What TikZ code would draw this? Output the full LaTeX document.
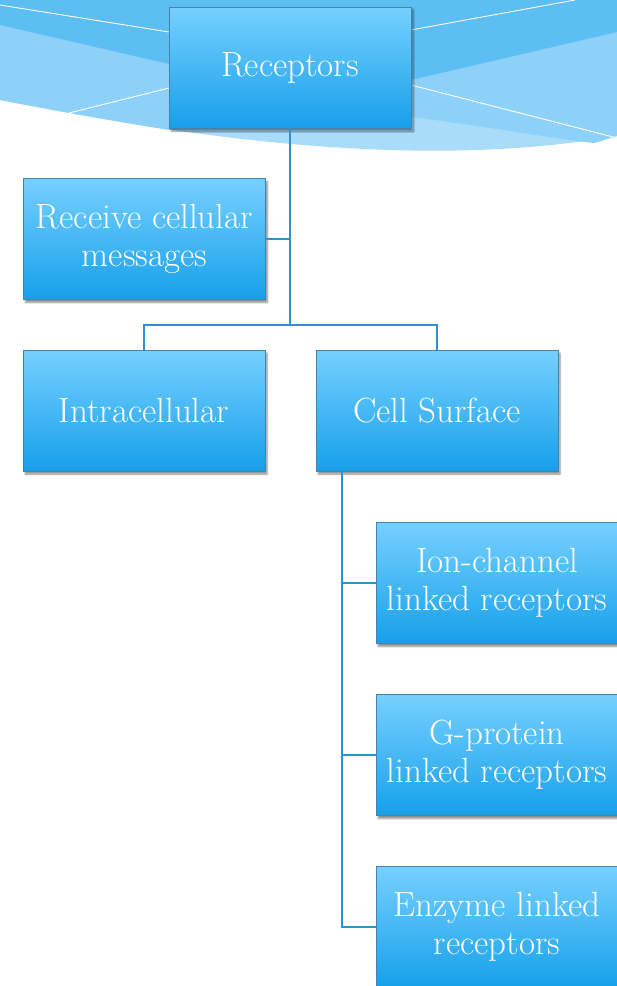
\documentclass[tikz,border=0pt]{standalone}
\usepackage{fontspec}
\usetikzlibrary{shadows.blur}
\definecolor{bgdark}{RGB}{93,190,243}
\definecolor{bgmid}{RGB}{142,209,248}
\definecolor{bglight}{RGB}{168,220,249}
\definecolor{boxtop}{RGB}{118,208,255}
\definecolor{boxbot}{RGB}{22,160,234}
\definecolor{boxedge}{RGB}{70,130,170}
\definecolor{conncol}{RGB}{46,146,208}
\begin{document}
\begin{tikzpicture}[x=1pt,y=-1pt,
  box/.style={rectangle, minimum width=242pt, minimum height=121pt, inner sep=0pt,
    align=center, text=white, font=\fontsize{35}{38}\selectfont,
    top color=boxtop, bottom color=boxbot, draw=boxedge, line width=0.7pt,
    blur shadow={shadow xshift=2pt, shadow yshift=-3pt, shadow blur steps=6, shadow opacity=45}},
  conn/.style={draw=conncol, line width=2pt},
  wline/.style={draw=white, line width=0.9pt}]
\useasboundingbox (0,0) rectangle (617,986);
\clip (0,0) rectangle (617,986);
% background waves
\fill[bglight] (0,0) -- (0,100) .. controls (250,150) and (450,165) .. (617,136) -- (617,0) -- cycle;
\fill[bgmid] (0,0) -- (0,100) .. controls (60,111) and (120,122) .. (169,130) -- (411,117)
  .. controls (500,128) and (560,140) .. (595,143) -- (617,136) -- (617,0) -- cycle;
\fill[bgdark] (0,0) -- (0,25) -- (169,64) -- (290,92) -- (411,80) -- (617,32) -- (617,0) -- cycle;
\draw[wline] (0,5) -- (169,32);
\draw[wline] (69,113) -- (169,88);
\draw[wline] (411,30) -- (575,0);
\draw[wline] (411,85) -- (617,138);
% nodes
\node[box] (rec) at (290,67.5) {Receptors};
\node[box] (msg) at (144.5,239) {Receive cellular\\messages};
\node[box] (intra) at (144,410.5) {Intracellular};
\node[box] (surf) at (437,410.5) {Cell Surface};
\node[box] (ion) at (497,583) {Ion-channel\\linked receptors};
\node[box] (gp) at (497,755) {G-protein\\linked receptors};
\node[box] (enz) at (497,927) {Enzyme linked\\receptors};
% connectors
\coordinate (j1) at (290,325);
\coordinate (s0) at ([xshift=26pt]surf.south west);
\draw[conn] (rec.south) -- (j1);
\draw[conn] (msg.east) -- (msg.east -| rec.south);
\draw[conn] (intra.north) |- (j1) -| (surf.north);
\draw[conn] (s0) |- (ion.west);
\draw[conn] (s0) |- (gp.west);
\draw[conn] (s0) |- (enz.west);
\end{tikzpicture}
\end{document}
